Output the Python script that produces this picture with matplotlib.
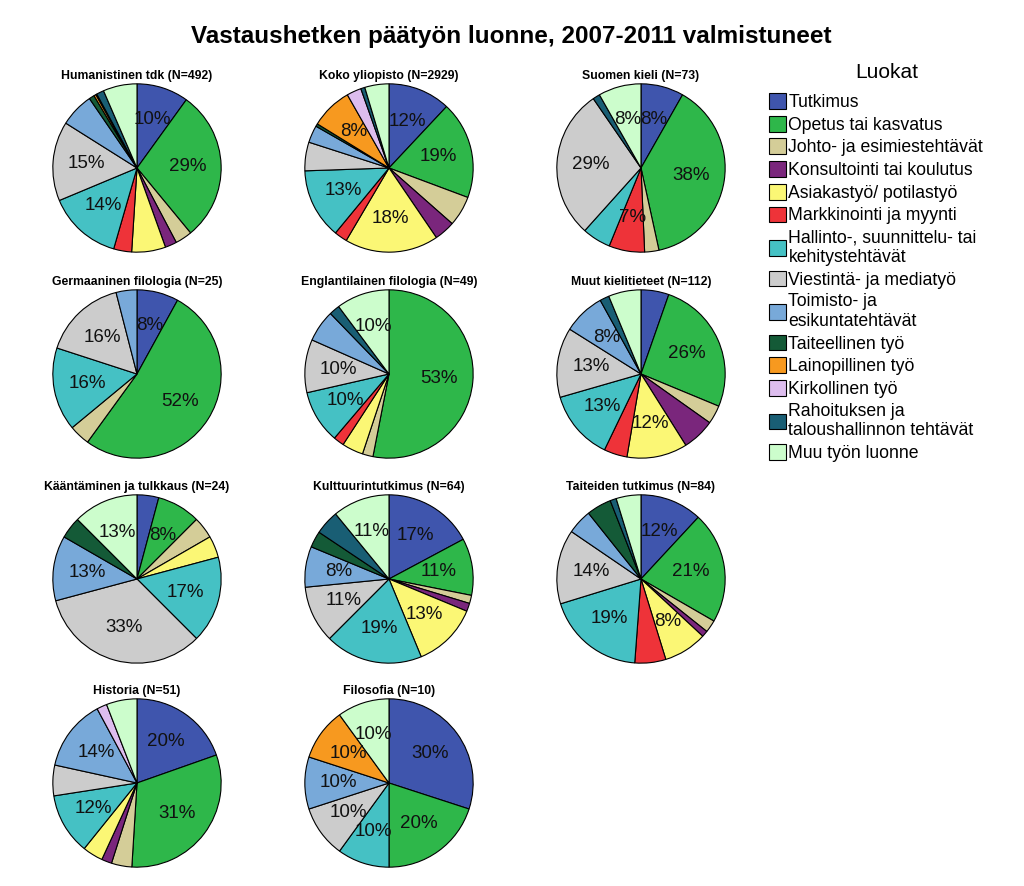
import numpy as np
import matplotlib
matplotlib.use("Agg")
import matplotlib.pyplot as plt
from matplotlib.patches import Patch

matplotlib.rcParams['font.family'] = ["Liberation Sans", "DejaVu Sans"]

# job categories (legend order = slice order, clockwise from 12 o'clock)
categories = ["Tutkimus", "Opetus tai kasvatus", "Johto- ja esimiestehtävät",
              "Konsultointi tai koulutus", "Asiakastyö/ potilastyö",
              "Markkinointi ja myynti", "Hallinto-, suunnittelu- tai\nkehitystehtävät",
              "Viestintä- ja mediatyö", "Toimisto- ja\nesikuntatehtävät",
              "Taiteellinen työ", "Lainopillinen työ", "Kirkollinen työ",
              "Rahoituksen ja\ntaloushallinnon tehtävät", "Muu työn luonne"]
colors = ["#3f55ad", "#2eb74a", "#d4cd98", "#7a267c", "#fbf775", "#ee3339",
          "#45c1c4", "#cccccc", "#78a9d9", "#145a37", "#f7991f", "#ddbdee",
          "#195e74", "#ccfdcc"]

# estimated counts per category (same order as categories)
humanistinen = [49, 143, 16, 11, 32, 17, 70, 75, 32, 5, 2, 1, 7, 32]
koko_yliopisto = [351, 548, 170, 117, 527, 73, 395, 161, 97, 15, 234, 82, 23, 136]
suomen_kieli = [6, 28, 2, 0, 0, 5, 4, 21, 0, 0, 0, 0, 1, 6]
germaaninen = [2, 13, 1, 0, 0, 0, 4, 4, 1, 0, 0, 0, 0, 0]
englantilainen = [0, 26, 1, 0, 2, 1, 5, 5, 3, 0, 0, 0, 1, 5]
muut_kielitieteet = [6, 29, 4, 7, 13, 5, 15, 15, 9, 0, 0, 0, 2, 7]
kaantaminen = [1, 2, 1, 0, 1, 0, 4, 8, 3, 1, 0, 0, 0, 3]
kulttuurintutkimus = [11, 7, 1, 1, 8, 0, 12, 7, 5, 2, 0, 0, 3, 7]
taiteiden_tutkimus = [10, 18, 2, 1, 7, 5, 16, 12, 4, 4, 0, 0, 1, 4]
historia = [10, 16, 2, 1, 2, 0, 6, 3, 7, 0, 0, 1, 0, 3]
filosofia = [3, 2, 0, 0, 0, 0, 1, 1, 1, 0, 1, 0, 0, 1]

names = ["Humanistinen tdk", "Koko yliopisto", "Suomen kieli",
         "Germaaninen filologia", "Englantilainen filologia", "Muut kielitieteet",
         "Kääntäminen ja tulkkaus", "Kulttuurintutkimus", "Taiteiden tutkimus",
         "Historia", "Filosofia"]
data = [humanistinen, koko_yliopisto, suomen_kieli, germaaninen, englantilainen,
        muut_kielitieteet, kaantaminen, kulttuurintutkimus, taiteiden_tutkimus,
        historia, filosofia]

W, H = 1024, 886
fig = plt.figure(figsize=(W / 100, H / 100), dpi=100)

fig.text(511 / W, 1 - 37 / H, "Vastaushetken päätyön luonne, 2007-2011 valmistuneet",
         ha="center", va="center", fontsize=17.5, fontweight="bold")

col_x = [137, 389, 641]
row_y = [168, 374, 579, 783]
r = 85


def pct_label(p):
    if p >= 6.7:
        return "{}%".format(int(p + 0.5))
    return ""


for i, (name, vals) in enumerate(zip(names, data)):
    cx = col_x[i % 3]
    cy = row_y[i // 3]
    ax = fig.add_axes([(cx - r) / W, 1 - (cy + r) / H, 2 * r / W, 2 * r / H])
    v = np.array(vals, dtype=float)
    keep = v > 0
    ax.pie(v[keep], colors=[c for c, k in zip(colors, keep) if k],
           startangle=90, counterclock=False, autopct=pct_label, pctdistance=0.6,
           wedgeprops=dict(edgecolor="black", linewidth=0.8),
           textprops=dict(fontsize=13.5, color="#111111"))
    ax.set_xlim(-1.01, 1.01)
    ax.set_ylim(-1.01, 1.01)
    ax.set_aspect("equal")
    ax.set_title("{} (N={})".format(name, int(v.sum())), fontsize=8.8,
                 fontweight="bold", pad=3)

# legend title placed by hand, legend itself below it
fig.text(887 / W, 1 - 73 / H, "Luokat", ha="center", va="center", fontsize=15)
handles = [Patch(facecolor=c, edgecolor="black", linewidth=0.8) for c in colors]
leg = fig.legend(handles, categories, loc="upper left",
                 bbox_to_anchor=(762 / W, 1 - 86 / H), frameon=False,
                 fontsize=12.7,
                 handlelength=0.95, handleheight=1.0, handletextpad=0.15,
                 labelspacing=0.27, borderaxespad=0)

fig.savefig("out.png", dpi=100)
